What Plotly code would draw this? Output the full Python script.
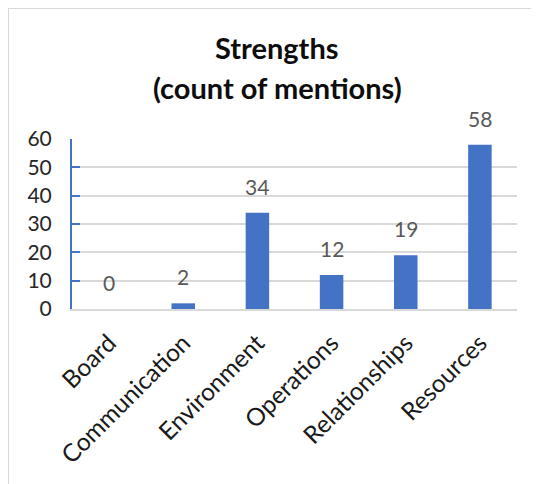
import plotly.graph_objects as go

categories = ["Board", "Communication", "Environment", "Operations", "Relationships", "Resources"]
counts = [0, 2, 34, 12, 19, 58]
y_ticks = [0, 10, 20, 30, 40, 50, 60]

# page body margin offsets the figure by 8px; positions below are in reference pixels
OFF = 8
W, H = 539 - OFF, 484 - OFF
L, R, T, B = 72 - OFF, 22, 139 - OFF, 175
PW, PH = W - L - R, H - T - B

def xp(px):
    return (px - OFF - L) / PW

def yp(py):
    return (H - B - (py - OFF)) / PH

FONT = "Lato"
fig = go.Figure()
fig.add_trace(go.Bar(
    x=categories, y=counts,
    marker=dict(color="#4472C4", line=dict(width=0)),
    hoverinfo="skip",
))

for c, v in zip(categories, counts):
    fig.add_annotation(x=c, y=v, xref="x", yref="y", text=str(v),
                       showarrow=False, yanchor="bottom", yshift=12,
                       font=dict(family=FONT, size=21, color="#595959"))

fig.add_annotation(x=xp(277), y=yp(48), xref="paper", yref="paper",
                   text="<b>Strengths</b>", showarrow=False,
                   xanchor="center", yanchor="middle",
                   font=dict(family=FONT, size=29, color="#0d0d0d"))
fig.add_annotation(x=xp(277), y=yp(87), xref="paper", yref="paper",
                   text="<b>(count of mentions)</b>", showarrow=False,
                   xanchor="center", yanchor="middle",
                   font=dict(family=FONT, size=29, color="#0d0d0d"))

# chart border (top and left)
fig.add_shape(type="line", xref="paper", yref="paper",
              x0=xp(7.5), x1=xp(560), y0=yp(7.5), y1=yp(7.5),
              line=dict(color="#d9d9d9", width=3))
fig.add_shape(type="line", xref="paper", yref="paper",
              x0=xp(7.5), x1=xp(7.5), y0=yp(7.5), y1=yp(500),
              line=dict(color="#d9d9d9", width=3))

fig.update_layout(
    width=W, height=H,
    margin=dict(l=L, r=R, t=T, b=B, autoexpand=False),
    paper_bgcolor="white", plot_bgcolor="white",
    bargap=0.683, showlegend=False,
    font=dict(family=FONT),
)
fig.update_xaxes(
    type="category", tickangle=-45,
    tickfont=dict(family=FONT, size=24.5, color="#1a1a1a"),
    showline=True, linecolor="#d9d9d9", linewidth=2,
    ticks="", showgrid=False, ticklabelstandoff=8,
)
fig.update_yaxes(
    range=[0, 60], tickvals=y_ticks,
    tickfont=dict(family=FONT, size=21, color="#262626"),
    showline=True, linecolor="#4472C4", linewidth=2,
    ticks="inside", ticklen=8, tickcolor="#4472C4", tickwidth=2,
    ticklabelstandoff=14,
    showgrid=True, gridcolor="#d9d9d9", gridwidth=1.5,
    zeroline=False,
)

fig.write_html("out.html")
